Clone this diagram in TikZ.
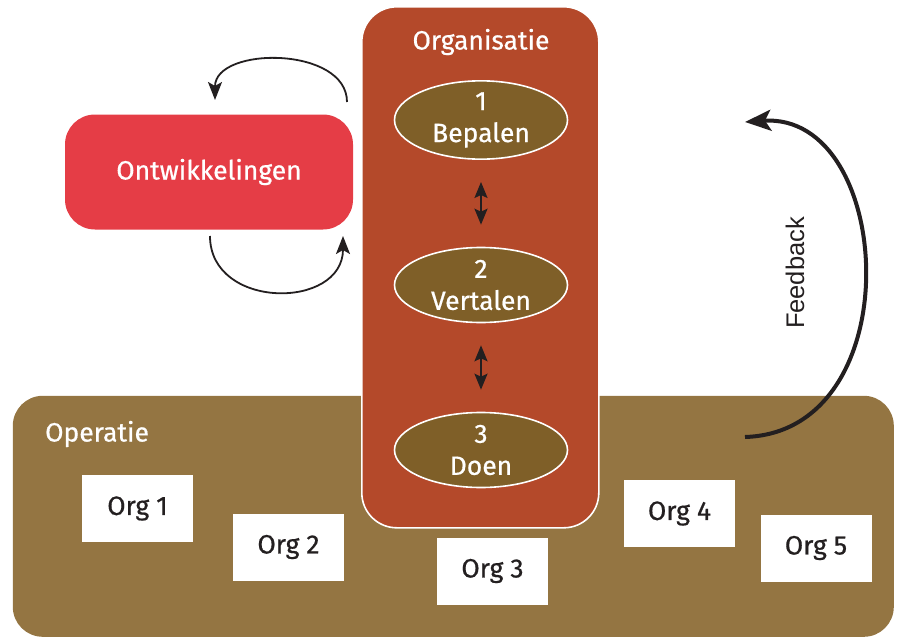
\documentclass[tikz,border=0pt]{standalone}
\usepackage{fontspec}
\setmainfont{Fira Sans}[FakeBold=0.6]
\newfontfamily\fbfont{Liberation Sans}
\usepackage{tikz}
\usetikzlibrary{
  arrows.meta,
  shapes.geometric,
  positioning,
  calc
}
\definecolor{orRed}{HTML}{E53D46}
\definecolor{orOrg}{HTML}{B4492A}
\definecolor{orStep}{HTML}{7F5F28}
\definecolor{orOper}{HTML}{947542}
\definecolor{orInk}{HTML}{231F20}
\tikzset{
  panel/.style={
    draw=white, line width=1.6pt, inner sep=0pt, anchor=north west
  },
  ontw/.style={
    rounded corners=30pt, fill=orRed, minimum width=288pt, minimum height=115pt,
    text=white, font=\fontsize{26.5}{30}\selectfont
  },
  stepnode/.style={
    ellipse, draw=white, line width=1.6pt, fill=orStep, text=white,
    minimum width=173pt, minimum height=75pt, inner sep=0pt, align=center,
    font=\fontsize{26.5}{32}\selectfont
  },
  orgbox/.style={
    fill=white, minimum width=111pt, minimum height=67pt, inner sep=0pt,
    text=orInk, font=\fontsize{26.5}{30}\selectfont
  },
  paneltitle/.style={text=white, font=\fontsize{26.5}{30}\selectfont, inner sep=0pt},
  loopflow/.style={-{Stealth[length=18pt, width=14pt, inset=4pt]}, line width=1.8pt, orInk},
  linkflow/.style={{Stealth[length=16pt, width=13pt, inset=3pt]}-{Stealth[length=16pt, width=13pt, inset=3pt]},
    line width=2.2pt, orInk, shorten <=22pt, shorten >=22pt},
  fbflow/.style={-{Stealth[length=26pt, width=21pt, inset=6pt]}, line width=4pt, orInk}
}

\begin{document}
\begin{tikzpicture}[x=1pt, y=-1pt]
  \useasboundingbox (0,0) rectangle (898,637);
  % operatie and organisatie panels
  \node[panel, draw=none, fill=orOper, rounded corners=30pt, minimum width=881pt, minimum height=241pt] (oper) at (12,395) {};
  \node[panel, fill=orOrg, rounded corners=35pt, minimum width=237pt, minimum height=521pt] (orgn) at (361,6) {};
  \node[paneltitle] (orgtitle) at (481,42) {Organisatie};
  \node[paneltitle, anchor=west] (opertitle) at (45,434) {Operatie};
  % steps
  \node[stepnode] (s1) at (481,120) {1\\Bepalen};
  \node[stepnode] (s2) at (481,285) {2\\Vertalen};
  \node[stepnode] (s3) at (481,450) {3\\Doen};
  \foreach \a/\b in {s1/s2, s2/s3}{\draw[linkflow] (\a) -- (\b);}
  % ontwikkelingen
  \node[ontw] (ontw) at (209,172) {Ontwikkelingen};
  \coordinate (topstart) at (347,102);
  \coordinate (topend) at (215,100);
  \coordinate (botstart) at (210,236);
  \coordinate (botend) at (343,236);
  \draw[loopflow] (topstart) .. controls (347,46) and (215,46) .. (topend);
  \draw[loopflow] (botstart) .. controls (210,310) and (343,310) .. (botend);
  % organisaties
  \node[orgbox] (org1) at (137.5,508.5) {Org 1};
  \node[orgbox] (org2) at (288.5,547) {Org 2};
  \node[orgbox] (org3) at (492.5,571) {Org 3};
  \node[orgbox] (org4) at (679.5,513.5) {Org 4};
  \node[orgbox] (org5) at (816,548) {Org 5};
  % feedback
  \coordinate (fbstart) at (745,437);
  \coordinate (fbend) at (745,122);
  \draw[fbflow] (fbstart) .. controls (912,432) and (895,112) .. (fbend);
  \node[rotate=90, text=orInk, font=\fbfont\fontsize{25.5}{28}\selectfont] (fb) at (795,273) {Feedback};
\end{tikzpicture}
\end{document}
